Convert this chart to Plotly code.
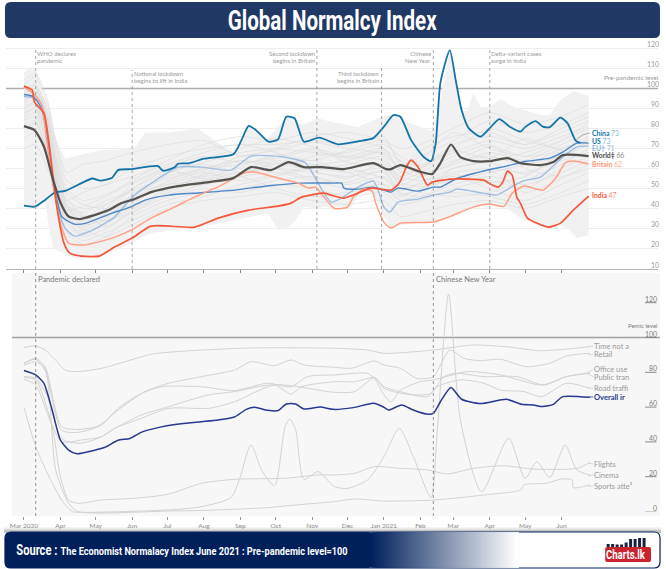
import json
import pandas as pd
import plotly.graph_objects as go

W, H = 666, 569
START = pd.Timestamp("2020-03-01")

# ---------- data: (days since 1 Mar 2020, index value) ----------
CHINA = [(0,41.4),(9,40.9),(18,44.3),(26,47.9),(35,48.8),(49,52.7),(58,55),(65,53.9),(75,55.4),(80,59.2),(91,59.7),(114,61.2),(118,58.9),(128,60.6),(131,62.4),(140,62.6),(153,64.9),(178,67.1),(185,74.3),(191,81.3),(197,79.3),(208,73.4),(216,74.6),(223,85.9),(230,85.1),(238,73.4),(251,75.4),(267,72.1),(284,73.6),(297,75.2),(306,80.9),(314,86.7),(320,85.9),(329,74.3),(340,65.6),(346,63.7),(350,72.6),(354,102.8),(362,119.2),(367,104.2),(372,89.2),(378,80.2),(388,75.9),(396,80.2),(404,84.7),(413,80.9),(422,78.4),(426,80.7),(435,83.7),(441,80.9),(447,80.7),(456,85.4),(462,82.7),(469,73.9),(473,72.8)]
US = [(0,97),(8,96),(15,90),(21,72),(25,52),(29,42),(32,36),(36,34.2),(43,32.2),(53,32.7),(64,35.2),(75,37.7),(91,40.8),(103,44.2),(123,46.7),(151,47.9),(179,49.2),(208,51.4),(236,52.7),(264,52.7),(270,52.7),(272,50.2),(284,49.7),(297,50.7),(306,49.2),(312,48.2),(318,50.2),(335,48.7),(348,50.7),(354,50.7),(368,55),(396,59.5),(410,61.2),(427,63.6),(447,65.2),(458,68.2),(470,72.7),(480,72.7)]
EU = [(0,96),(7,95.5),(14,93),(17,88),(21,69),(25,50.7),(31,36),(35,30.2),(43,26.2),(58,29.2),(69,32.7),(77,35.7),(94,46.7),(111,53.7),(131,60.7),(151,60.7),(176,59.2),(193,66.2),(221,65.7),(239,63),(245,58),(255,47.7),(261,43.2),(270,45.2),(284,50.7),(297,53.7),(301,49.2),(306,40.7),(311,38.2),(318,43.2),(335,44.7),(348,46.7),(362,48.2),(368,49.7),(390,47.7),(402,46.7),(410,49.2),(424,53.7),(439,55.7),(449,60.7),(458,65.7),(470,70.7),(480,71.2)]
WORLD = [(0,81.2),(9,79.2),(17,71),(24,56),(31,43),(38,36),(47,34.7),(60,36.7),(72,39.2),(83,42.7),(94,44.7),(108,48.2),(131,51.2),(157,53.2),(178,55.2),(193,60.7),(210,59.2),(225,63.2),(238,60.7),(253,60.7),(272,59.7),(297,62.7),(308,59.7),(312,59.7),(320,61.7),(335,58.7),(347,57.2),(354,62.7),(363,72),(371,65.7),(382,63.7),(396,63.7),(411,65.2),(422,62.7),(439,61.7),(450,63.2),(458,66.7),(480,66.2)]
BRITAIN = [(0,100.7),(9,97),(15,92),(19,75.7),(26,47.7),(32,30.7),(38,22.7),(51,21.7),(75,25.2),(91,29.2),(108,35.2),(128,40.7),(145,45.7),(168,51.7),(187,57.7),(196,58.2),(216,55.2),(233,52.7),(242,50.2),(248,50.7),(255,45.7),(264,40),(275,40.7),(280,45.7),(289,49.7),(296,48.7),(299,42.7),(306,33.2),(312,30.2),(320,32.7),(348,33.2),(363,36.2),(382,40.7),(396,42.2),(408,41),(415,47.7),(425,51.2),(441,49.2),(452,55.2),(460,62.7),(467,63.7),(480,62.2)]
INDIA = [(0,101.2),(7,99.2),(9,93.2),(17,87.7),(21,74.2),(28,40.7),(34,22.7),(39,17.7),(49,16.2),(64,16.2),(77,20.7),(92,25.2),(108,31.2),(145,30.7),(165,35.2),(191,39.2),(216,41.2),(227,42.7),(236,45.7),(255,47.7),(261,46.7),(272,45.2),(284,47.7),(295,50.2),(312,49.2),(319,52.7),(325,60.7),(329,64.2),(335,60.7),(343,51.7),(347,53.2),(363,54.7),(391,54.2),(395,52.7),(403,50.7),(407,53.2),(411,58.7),(415,56.7),(419,45.7),(422,42.7),(428,35.2),(436,32.7),(446,30.7),(456,32.7),(467,39.2),(480,46.2)]
BAND_UPPER = [(0,108),(7,111),(11,108),(18,94),(26,75.7),(35,65),(49,67),(64,69),(94,70),(103,78),(123,78),(148,80),(162,74),(179,67.7),(191,81),(206,74),(223,86),(236,81.7),(250,85),(264,83),(284,80.7),(303,85.7),(314,87),(323,84),(340,80),(346,78.7),(352,89),(362,119.2),(367,104),(371,88),(377,89),(382,97.7),(388,90.7),(396,90.7),(405,94.7),(416,90.7),(439,86.7),(447,86.7),(456,94.2),(467,98.7),(480,96.2)]
BAND_LOWER = [(0,41),(9,41),(18,44),(21,31),(25,20),(43,15),(64,16),(77,19),(92,22.7),(108,27.7),(151,30.7),(179,34.2),(208,37.7),(210,35),(216,29.2),(225,30.7),(230,33.2),(238,40.7),(250,40),(255,41),(261,40.2),(278,40.7),(286,47.7),(297,48.2),(303,39.2),(312,30.2),(320,31.7),(348,33.2),(363,36.7),(382,40.7),(396,41.7),(408,41),(422,35.2),(436,32.7),(446,30.7),(456,31.2),(462,30.2),(470,25.2),(480,26.7)]

GREY_DAYS = [0,10,20,28,36,50,70,92,122,153,184,214,245,275,306,320,337,365,396,426,457,480]
GREY_LINES = [
 [98,100,86,58,44,40,42,50,58,63,68,70,68,66,70,58,60,72,76,72,78,84],
 [92,95,80,52,36,31,36,44,52,57,60,64,62,60,62,52,56,64,66,62,70,74],
 [102,106,92,70,54,50,52,60,66,70,72,72,74,72,76,62,66,74,84,78,82,88],
 [88,90,72,46,32,26,30,38,48,54,58,60,58,56,58,50,52,58,60,58,64,68],
 [85,88,70,42,28,22,26,36,44,48,50,54,56,52,56,48,46,52,56,52,58,64],
 [95,98,84,62,48,42,40,46,56,60,64,62,60,62,66,54,58,66,72,60,56,60],
 [90,92,76,48,34,28,32,42,54,60,62,66,70,66,64,56,54,56,50,44,52,58],
 [78,82,68,50,40,36,38,44,50,52,56,58,54,50,52,46,50,54,58,62,66,72],
 [100,102,88,64,46,36,34,40,50,56,58,62,64,58,52,44,48,60,64,68,74,80],
 [82,84,66,40,30,24,28,34,42,46,52,56,60,58,60,52,48,46,48,54,62,70],
 [94,96,82,56,40,34,40,52,60,62,58,60,66,68,72,66,62,70,80,74,70,76],
 [70,72,60,48,44,48,52,56,62,68,72,68,62,64,68,60,64,78,70,66,68,66],
 [86,90,74,52,38,32,34,38,46,50,48,52,50,46,48,42,44,50,54,50,60,66],
 [104,108,94,72,58,62,64,68,72,74,66,70,76,78,74,70,72,80,88,82,86,92],
 [91,93,78,54,42,38,44,48,52,54,56,50,46,48,50,44,46,48,46,42,48,54],
 [96,99,86,60,42,30,26,32,40,44,46,48,44,42,44,36,38,42,44,40,46,50],
 [93,97,83,55,38,29,35,47,57,65,70,75,71,63,61,56,60,68,74,70,76,81],
 [84,86,71,47,35,30,38,50,59,55,61,67,64,69,74,63,57,62,68,64,72,78],
 [99,101,90,66,50,44,47,54,64,72,76,74,78,75,70,60,69,76,78,72,80,86],
 [75,78,64,44,33,27,33,45,53,58,54,57,61,60,55,49,53,60,63,57,66,75],
 [89,94,79,51,37,35,42,49,55,59,66,69,73,70,67,59,56,63,71,66,74,83],
 [97,100,85,59,43,33,37,42,47,52,57,63,59,55,63,53,51,55,59,48,55,62],
 [80,83,69,49,39,41,46,53,61,66,63,65,69,65,69,64,61,69,65,75,69,73],
 [87,91,77,53,41,37,31,39,49,57,64,60,55,53,59,47,50,57,53,56,68,79],
]

OVERALL = [(0,81),(10,78.5),(17,73.7),(24,58.3),(31,41.1),(38,35.3),(45,33.2),(60,35.2),(69,36.9),(80,40.9),(90,42),(101,45.9),(114,48.2),(130,50.1),(151,51.6),(165,52.6),(179,54.3),(189,58.7),(196,59.9),(207,58.2),(216,58),(223,61.8),(231,61.8),(238,58.9),(252,60.1),(263,58.7),(280,59.7),(297,62.2),(306,59.9),(310,58.3),(321,61.2),(331,58.3),(342,56),(348,56.4),(354,63.1),(363,71.2),(372,64.5),(388,62),(410,64.5),(423,61.6),(433,61.2),(441,60.3),(450,61.6),(458,66),(481,65.6)]
TIME_NOT_HOME = [(0,94.2),(10,95.1),(18,92.8),(27,87),(35,81.3),(45,80.4),(66,82.3),(89,86.7),(109,90.5),(137,92.2),(193,94),(264,93.8),(292,92.8),(306,90.9),(348,92.8),(365,94.4),(382,95.7),(410,94.7),(439,92.4),(481,94.7)]
RETAIL = [(0,85.2),(10,88),(18,83.2),(32,48.8),(46,47.2),(63,49.1),(80,58.3),(103,68.9),(123,73.7),(154,77.9),(179,81.3),(193,86.1),(213,83.8),(227,87.1),(238,84.2),(264,82.9),(278,82.3),(298,86.5),(306,84.2),(320,82.3),(334,76.5),(348,77.5),(362,92.8),(374,88),(388,86.7),(405,87.5),(427,83.2),(447,85.2),(461,89.4),(481,90.9)]
OFFICE = [(0,85),(10,87.5),(18,81),(32,46.8),(46,45.5),(66,49.7),(80,59.3),(100,67.9),(117,71.7),(151,71.7),(179,69.5),(207,73.7),(227,71.7),(241,77.5),(264,78.5),(292,79.4),(298,76.5),(306,67),(312,63.1),(320,69.8),(337,74.6),(348,75.6),(377,80.4),(405,78.5),(440,72.7),(461,77.5),(481,79.8)]
TRANSPORT = [(0,77.5),(10,76.5),(20,66),(32,42),(46,39.2),(63,42),(80,48.8),(100,55.5),(123,60.3),(157,67),(179,68.9),(213,72.7),(227,67.5),(236,71.7),(264,74.6),(281,74.6),(298,76.9),(306,70.8),(314,68.9),(331,67),(346,67.9),(357,77.5),(368,79.4),(391,77.5),(419,77.5),(442,72.7),(461,77.5),(481,79.4)]
ROAD = [(0,76),(10,72.7),(21,54.5),(32,40.1),(49,41.1),(66,43),(77,47.8),(100,53.6),(123,59.3),(157,59.3),(179,63.1),(213,72.7),(264,68.5),(281,68.9),(298,76.9),(306,71.7),(320,68.9),(343,66),(351,71.7),(371,75.6),(391,73.7),(405,69.8),(425,68.9),(440,66),(461,73.7),(481,70.8)]
FLIGHTS = [(0,77),(10,75.6),(24,48.8),(31,20),(38,6.6),(46,4.7),(66,6.6),(94,7.6),(123,10),(151,16.2),(179,18.5),(222,19.1),(250,21),(264,21),(281,21.9),(298,25.8),(320,24.8),(343,23.9),(360,21.6),(382,24.8),(408,26.3),(433,24.4),(470,24.8),(481,28.1)]
CINEMA = [(0,59.9),(10,37.3),(20,21.9),(32,6.6),(41,0),(49,-0.5),(123,0.9),(151,2.8),(176,8),(183,18.1),(193,38.2),(202,23.9),(213,14.7),(222,48.8),(226,53.2),(231,46.8),(238,18.5),(250,22.9),(264,14.3),(275,13.3),(292,18.1),(306,31.5),(319,47.8),(331,31.5),(346,8),(351,43),(361,125),(371,52.6),(389,11.4),(412,42.1),(426,19),(436,28.6),(447,19.6),(460,38.2),(470,23.9),(481,21)]
SPORTS = [(0,84),(10,86),(18,82),(27,23.9),(38,4.7),(46,0),(123,0.3),(151,0.6),(207,2.2),(222,3.2),(264,5.7),(281,7.2),(306,6),(348,6.6),(391,9.5),(422,12.4),(425,15.3),(444,16.2),(457,18.7),(466,18.1),(467,13.7),(481,15.3)]

MONTHS = [0,31,61,92,122,153,184,214,245,275,306,337,365,396,426,457]
MONTH_LABELS = ["Mar 2020","Apr","May","Jun","Jul","Aug","Sep","Oct","Nov","Dec","Jan 2021","Feb","Mar","Apr","May","Jun"]
TOP_TICKS = [10,20,30,40,50,60,70,80,90,100,110,120]
BOTTOM_TICKS = [0,20,40,60,80,100,120]
TOP_EVENTS = [10,92,249,304,348,396]
BOTTOM_EVENTS = [10,348]
TITLE = "Global Normalcy Index"
SOURCE_HEAD = "Source :"
SOURCE_TEXT = "The Economist Normalacy Index June 2021 : Pre-pandemic level=100"
LOGO_TEXT = "Charts.lk"

C_CHINA, C_US, C_EU, C_WORLD, C_BRITAIN, C_INDIA = "#1273a8", "#4f88c6", "#9dbde3", "#56534f", "#ff9f85", "#f4583a"
C_NAVY = "#26388f"; TXT = "#9a9a9a"; FONT = "Lato"; BANNER_FONT = "Roboto"
PAD = 2.5  # plotly's padding round an annotation's text

def d(n): return START + pd.to_timedelta(n, unit="D")
def xs(s): return [d(p[0]) for p in s]
def ys(s): return [p[1] for p in s]
def px2day(px): return (px - 22) / 1.18   # 1 Mar 2020 at x=22px, 1.18 px per day
def fx(px): return px / W
def fy(py): return 1 - py / H

fig = go.Figure()
shapes, ann = [], []

def paper_rect(x0, y0, x1, y1, fill, layer="below"):
    shapes.append(dict(type="rect", xref="paper", yref="paper", x0=fx(x0), x1=fx(x1), y0=fy(y0), y1=fy(y1),
                       fillcolor=fill, line=dict(width=0), layer=layer))

def rounded(x0, y0, x1, y1, r):
    a, b, c, e = fx(x0), fx(x1), fy(y0), fy(y1)
    rx, ry = r / W, r / H
    return (f"M {a+rx},{c} L {b-rx},{c} Q {b},{c} {b},{c-ry} L {b},{e+ry} Q {b},{e} {b-rx},{e} "
            f"L {a+rx},{e} Q {a},{e} {a},{e+ry} L {a},{c-ry} Q {a},{c} {a+rx},{c} Z")

def text(px, py, s, size=7, color=TXT, anchor="left", font=FONT, weight="normal"):
    shift = {"left": -PAD, "right": PAD, "center": 0}[anchor]
    ann.append(dict(xref="paper", yref="paper", x=fx(px + shift), y=fy(py), text=s, showarrow=False, xanchor=anchor,
                    yanchor="middle", font=dict(family=font, size=size, color=color, weight=weight)))

def line(s, color, width, ax=1, smooth=0.6, name=""):
    fig.add_trace(go.Scatter(x=xs(s), y=ys(s), mode="lines", xaxis=f"x{ax if ax>1 else ''}", yaxis=f"y{ax if ax>1 else ''}",
                             line=dict(color=color, width=width, shape="spline", smoothing=smooth), name=name,
                             hoverinfo="skip", showlegend=False))

# ---------- top panel ----------
band = BAND_UPPER + BAND_LOWER[::-1]
fig.add_trace(go.Scatter(x=xs(band), y=ys(band), mode="lines", fill="toself", fillcolor="#f1f1f1",
                         line=dict(width=0), hoverinfo="skip", showlegend=False))
for g in GREY_LINES:
    fig.add_trace(go.Scatter(x=[d(t) for t in GREY_DAYS], y=g, mode="lines", hoverinfo="skip", showlegend=False,
                             line=dict(color="#dcdcdc", width=0.7, shape="spline", smoothing=0.6)))
line(EU, C_EU, 1.4, name="EU")
line(US, C_US, 1.4, name="US")
line(BRITAIN, C_BRITAIN, 1.5, name="Britain")
line(CHINA, C_CHINA, 1.8, name="China")
line(INDIA, C_INDIA, 1.7, name="India")
line(WORLD, C_WORLD, 2.2, name="World")

# ---------- bottom panel ----------
for s in (TIME_NOT_HOME, RETAIL, OFFICE, TRANSPORT, ROAD, FLIGHTS, CINEMA, SPORTS):
    line(s, "#d2d2d2", 1, ax=2, smooth=0.7)
line(OVERALL, C_NAVY, 1.5, ax=2)

# ---------- guides ----------
for t, py0 in zip(TOP_EVENTS, [47, 70, 47, 68, 47, 47]):
    shapes.append(dict(type="line", xref="x", yref="paper", x0=d(t), x1=d(t), y0=fy(269), y1=fy(py0),
                       line=dict(color="#8f8f8f", width=0.8, dash="dot"), layer="above"))
for t in BOTTOM_EVENTS:
    shapes.append(dict(type="line", xref="x2", yref="paper", x0=d(t), x1=d(t), y0=fy(516), y1=fy(273),
                       line=dict(color="#777777", width=0.8, dash="dot"), layer="above"))
shapes.append(dict(type="line", xref="paper", yref="y", x0=fx(4), x1=fx(658), y0=100, y1=100,
                   line=dict(color="#adadad", width=1.4), layer="below"))
paper_rect(10, 273, 660, 516, "#f7f7f7")
shapes.append(dict(type="line", xref="paper", yref="y2", x0=fx(10), x1=fx(660), y0=100, y1=100,
                   line=dict(color="#a0a0a0", width=1.5), layer="below"))
for v in BOTTOM_TICKS:
    shapes.append(dict(type="line", xref="paper", yref="y2", x0=fx(645), x1=fx(656.5), y0=v, y1=v,
                       line=dict(color="#8a8a8a" if v else "#cfcfcf", width=1), layer="below"))
    ann.append(dict(xref="paper", yref="y2", x=fx(656.5 + PAD), y=v, text=str(v), showarrow=False, xanchor="right",
                    yanchor="bottom", yshift=-2, font=dict(family=FONT, size=7, color="#808080")))
for v in TOP_TICKS:
    ann.append(dict(xref="paper", yref="y", x=fx(658 + PAD), y=v, text=str(v), showarrow=False, xanchor="right",
                    yanchor="bottom", yshift=-2, font=dict(family=FONT, size=7, color="#9a9a9a")))

# ---------- event text ----------
for px, py, s, a in [(36,54,"WHO declares","left"),(36,60.5,"pandemic","left"),
                     (133,74,"National lockdown","left"),(133,80.5,"begins to lift in India","left"),
                     (313,54,"Second lockdown","right"),(313,60.5,"begins in Britain","right"),
                     (378,74,"Third lockdown","right"),(378,80.5,"begins in Britain","right"),
                     (430,54,"Chinese","right"),(430,60.5,"New Year","right"),
                     (491,54,"Delta-variant cases","left"),(491,60.5,"surge in India","left"),
                     (658,77,"Pre-pandemic level","right")]:
    text(px, py, s, size=6 if px != 658 else 6.5, anchor=a)
text(36.7, 279, "Pandemic declared", size=7.5, color="#777777")
text(436, 279, "Chinese New Year", size=7.5, color="#777777")
text(657, 325, "Pemic level", size=6, color="#777777", anchor="right")

# ---------- end labels ----------
for py, name, num, c, c2 in [(133,"China","73",C_CHINA,"#7fb5d6"),(140.5,"US","73",C_CHINA,"#7fb5d6"),
                             (148,"EU†","71","#8db2dd","#9dbde3"),(155.5,"World‡","66","#4a4a4a","#8a8a8a"),
                             (163.5,"Britain","62","#ff9478","#ffa78f"),(194.5,"India","47","#f4583a","#f78a72")]:
    text(592, py, f'<b>{name}</b> <span style="color:{c2}">{num}</span>', size=6.8, color=c)
shapes.append(dict(type="path", xref="paper", yref="paper", layer="above", line=dict(color="#9a9a9a", width=0.7),
                   path=f"M {fx(576)},{fy(140)} L {fx(582)},{fy(135)} L {fx(590)},{fy(133)}"))
for py, s, bold in [(346,"Time not a",0),(354.5,"Retail",0),(369,"Office use",0),(377,"Public tran",0),
                    (388,"Road traffi",0),(397.5,"Overall ir",1),(464,"Flights",0),(475,"Cinema",0),(486,"Sports atte²",0)]:
    text(594.5, py, f"<b>{s}</b>" if bold else s, size=7.5, color=C_NAVY if bold else "#999999")
for p0, p1, c in [((588,346.5),(593,346),"#cccccc"),((588,355),(593,354.5),"#cccccc"),((588,373),(593,369),"#cccccc"),
                  ((588,374),(593,377),"#cccccc"),((588,388),(593,388),"#cccccc"),((589,397),(593,397),C_NAVY),
                  ((588,463),(593,464),"#cccccc"),((588,476),(593,475),"#cccccc"),((588,486),(593,486),"#cccccc")]:
    shapes.append(dict(type="line", xref="paper", yref="paper", x0=fx(p0[0]), y0=fy(p0[1]), x1=fx(p1[0]), y1=fy(p1[1]),
                       line=dict(color=c, width=0.8), layer="above"))

# ---------- banners ----------
shapes.append(dict(type="path", xref="paper", yref="paper", path=rounded(3, 2, 660, 38, 6), fillcolor="#1f3864",
                   line=dict(width=0), layer="above"))
text(331, 20.5, TITLE, size=27, color="white", anchor="center", font=BANNER_FONT, weight="bold")

for py, a in [(527,0.06),(528.5,0.12),(530,0.2)]:
    paper_rect(2, py, 661, 533, f"rgba(80,80,80,{a})", layer="above")
shapes.append(dict(type="path", xref="paper", yref="paper", path=rounded(3, 532, 660, 568, 6), fillcolor="white",
                   line=dict(color="#00205c", width=1.2), layer="above"))
shapes.append(dict(type="path", xref="paper", yref="paper", layer="above", fillcolor="#00205c", line=dict(width=0),
                   path=f"M {fx(9)},{fy(532)} L {fx(368.5)},{fy(532)} L {fx(368.5)},{fy(568)} L {fx(9)},{fy(568)} "
                        f"Q {fx(3)},{fy(568)} {fx(3)},{fy(562)} L {fx(3)},{fy(538)} Q {fx(3)},{fy(532)} {fx(9)},{fy(532)} Z"))
STEPS = 60
for i in range(STEPS):
    t = i / (STEPS - 1)
    x0 = 368 + (518 - 368) * i / STEPS
    col = f"rgb({int(t*255)},{int(32+t*223)},{int(92+t*163)})"
    paper_rect(x0, 532.6, 518, 567.4, col, layer="above")
text(35.5, 550, SOURCE_HEAD, size=14, color="white", anchor="center", font=BANNER_FONT, weight="bold")
text(203, 550.5, SOURCE_TEXT, size=11.5, color="white", anchor="center", font=BANNER_FONT, weight="bold")

# logo
shapes.append(dict(type="path", xref="paper", yref="paper", path=rounded(605, 547, 651, 562, 2), fillcolor="#c9232d",
                   line=dict(width=0), layer="above"))
for x0, top in [(606.5,544),(611,544),(615.5,544.5),(620,544.5),(624.5,542.5),(629,539),(633.5,539),(638,538),(642.5,538)]:
    paper_rect(x0, top, x0 + 3, 547, "#1b2140", layer="above")
text(626, 554.5, LOGO_TEXT, size=12, color="white", anchor="center", font=BANNER_FONT, weight="bold")

# ---------- layout ----------
def dom(a, b): return [a / W, b / W]
fig.update_layout(
    width=W, height=H, margin=dict(l=0, r=0, t=0, b=0), paper_bgcolor="white", plot_bgcolor="rgba(0,0,0,0)",
    showlegend=False, autosize=False, shapes=shapes, annotations=ann, hovermode=False,
    xaxis=dict(domain=dom(4, 658), range=[d(px2day(4)), d(px2day(658))], type="date", tickvals=[d(t) for t in MONTHS],
               showticklabels=False, ticks="outside", ticklen=3, tickwidth=1, tickcolor="#888888", showgrid=False,
               showline=True, linecolor="#b5b5b5", linewidth=1, anchor="y"),
    yaxis=dict(domain=[fy(269), fy(47)], range=[100 - (269 - 88.5) / 2, 100 + (88.5 - 47) / 2],
               tickvals=[v for v in TOP_TICKS if v != 100], showticklabels=False, ticks="", showgrid=True,
               gridcolor="#eeeeee", gridwidth=1.6, zeroline=False, anchor="x"),
    xaxis2=dict(domain=dom(10, 660), range=[d(px2day(10)), d(px2day(660))], type="date", tickvals=[d(t) for t in MONTHS],
                ticktext=MONTH_LABELS, tickfont=dict(family=FONT, size=6.5, color="#8a8a8a"), ticks="outside", ticklen=3,
                tickwidth=1, tickcolor="#999999", showgrid=False, showline=False, tickangle=0, anchor="y2"),
    yaxis2=dict(domain=[fy(516), fy(273)], range=[(511.5 - 516) / 1.74, (511.5 - 273) / 1.74], showticklabels=False,
                ticks="", showgrid=False, zeroline=False, anchor="x2"),
)
FIT = {TITLE: 209, SOURCE_HEAD: 41, SOURCE_TEXT: 287, LOGO_TEXT: 39}
post = """
document.body.style.margin='0';document.documentElement.style.overflow='hidden';
var FIT=%s;
function fit(){document.querySelectorAll('text.annotation-text').forEach(function(t){var w=FIT[t.textContent];
 if(w){t.setAttribute('textLength',w);t.setAttribute('lengthAdjust','spacingAndGlyphs');}});}
fit();setTimeout(fit,30);setTimeout(fit,200);
""" % json.dumps(FIT)
fig.write_html("out.html", config=dict(displayModeBar=False, staticPlot=True), post_script=post)
